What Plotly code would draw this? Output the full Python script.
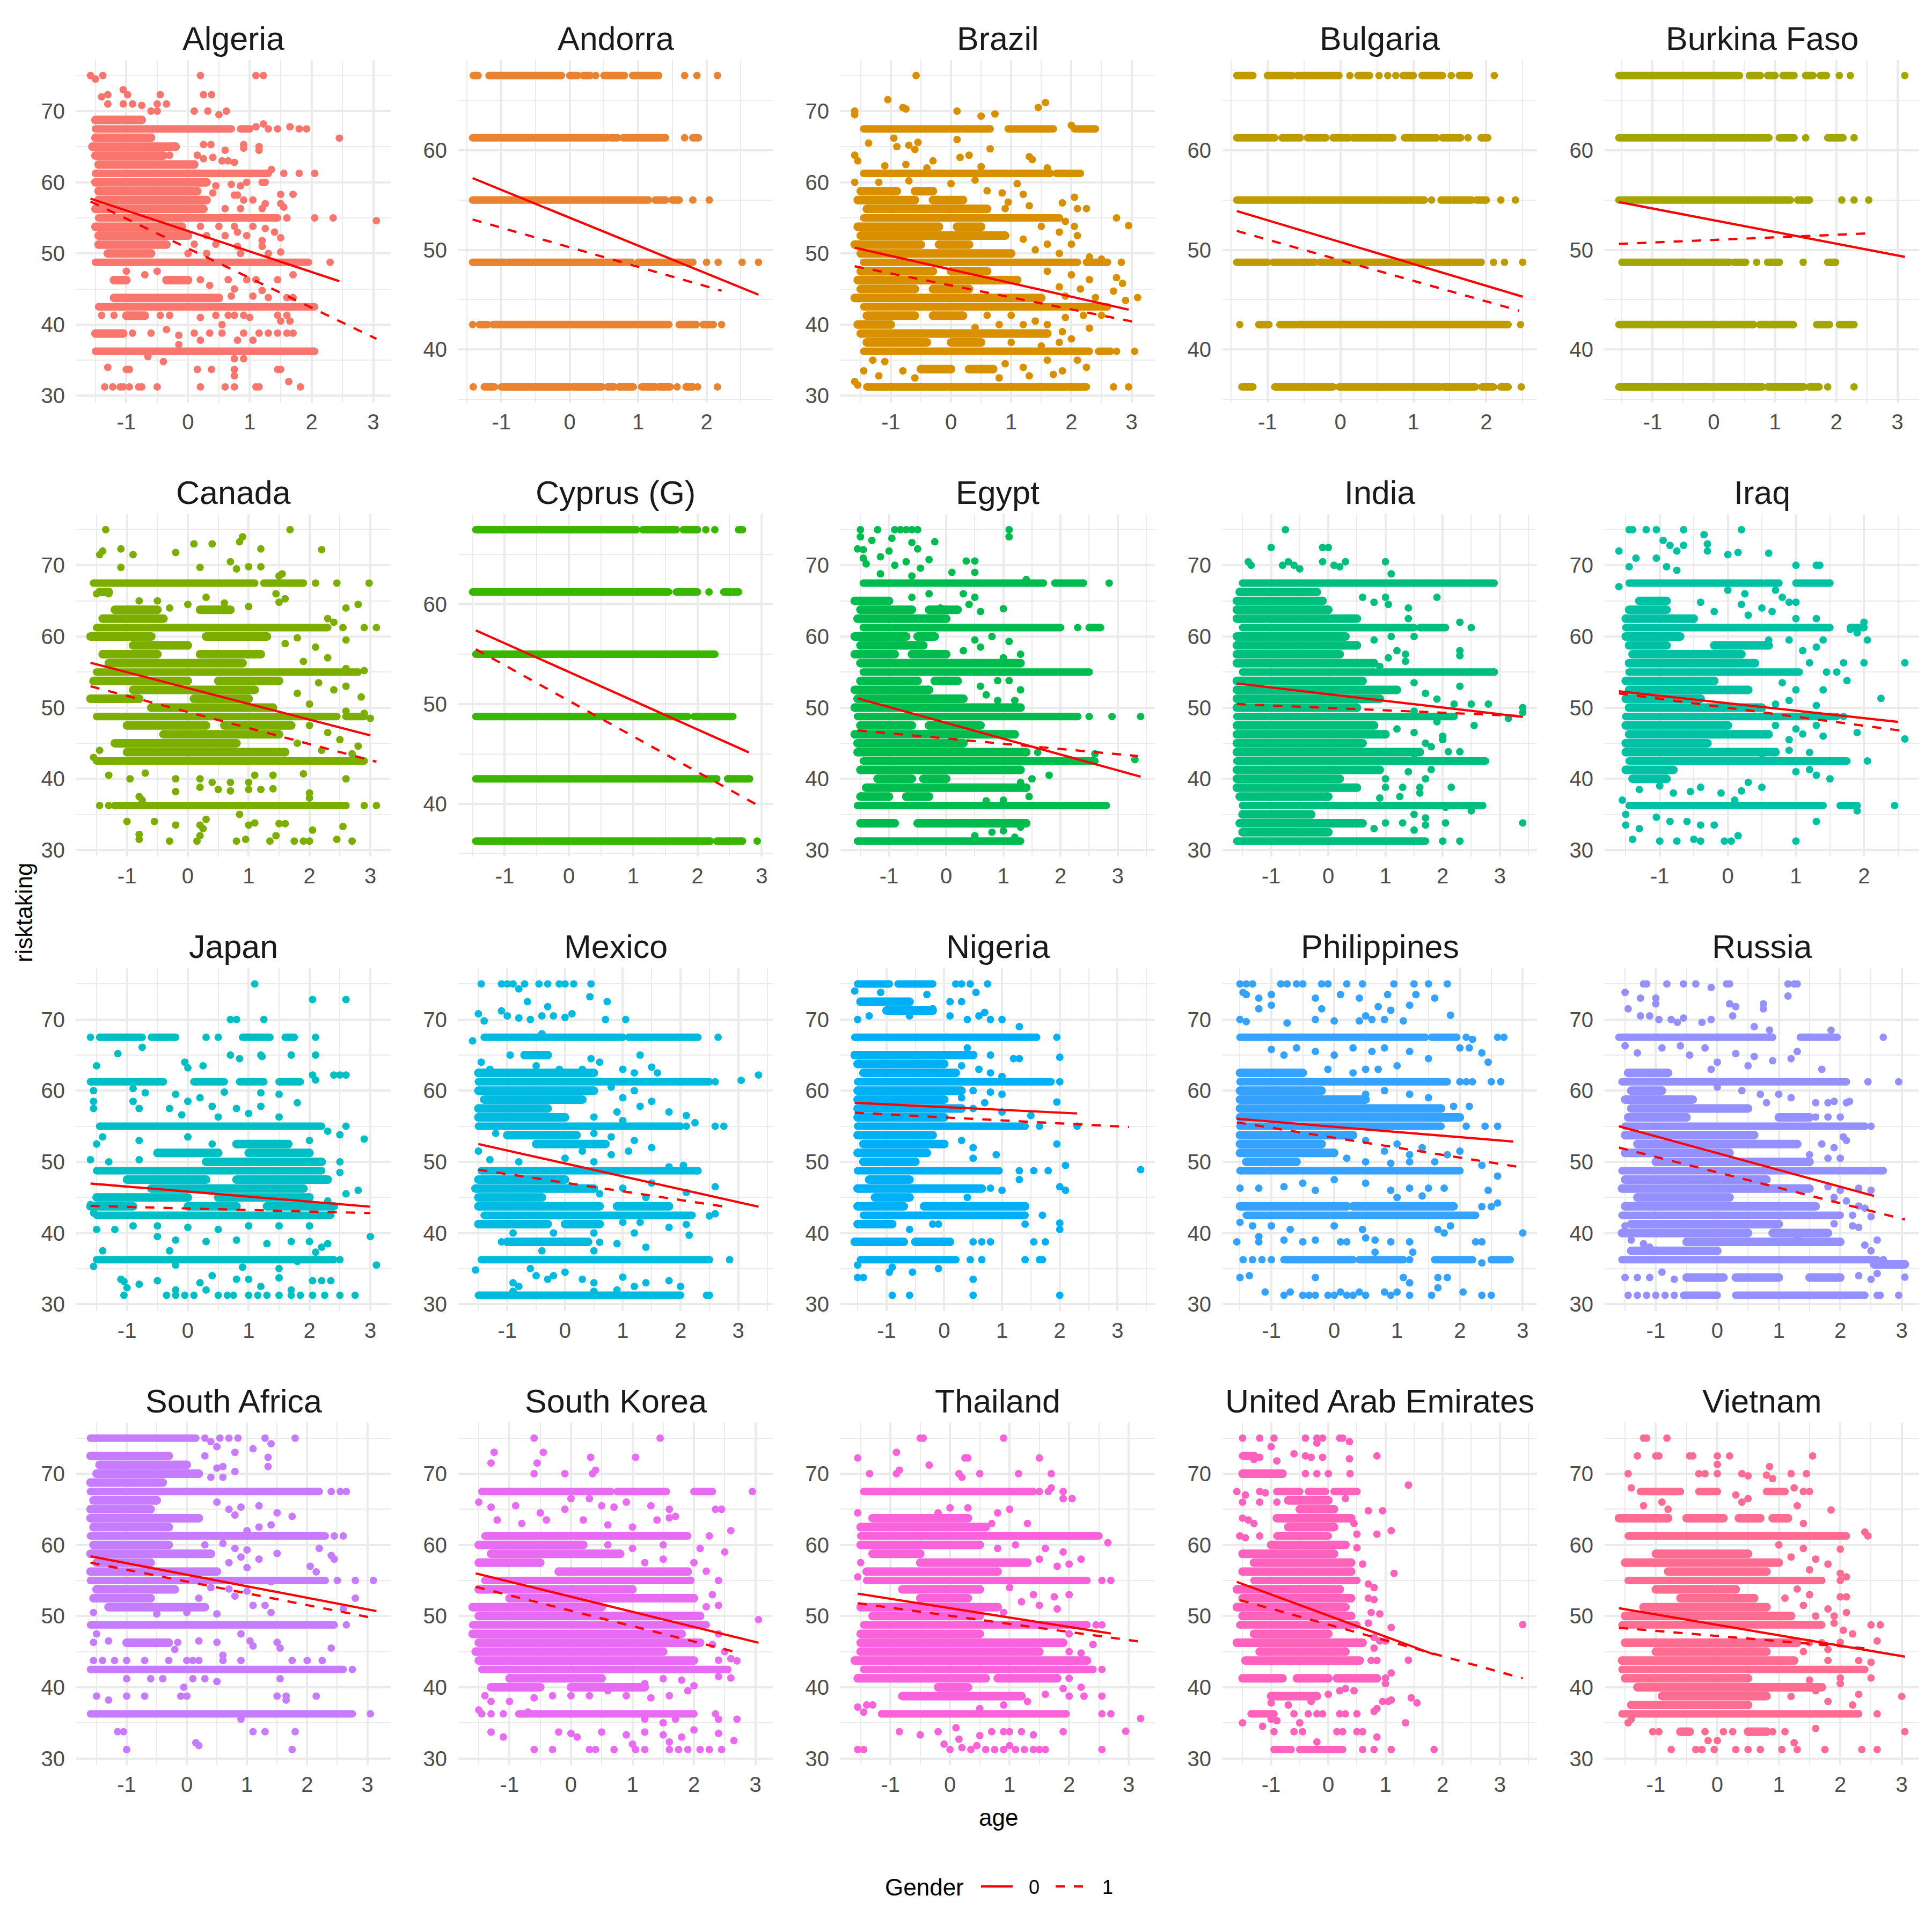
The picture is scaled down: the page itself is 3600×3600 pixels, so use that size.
import math
import plotly.graph_objects as go

COUNTRIES = ["Algeria", "Andorra", "Brazil", "Bulgaria", "Burkina Faso",
             "Canada", "Cyprus (G)", "Egypt", "India", "Iraq",
             "Japan", "Mexico", "Nigeria", "Philippines", "Russia",
             "South Africa", "South Korea", "Thailand", "United Arab Emirates", "Vietnam"]
COLORS = ["#F8766D", "#EA8331", "#D89000", "#C09B00", "#A3A500",
          "#7CAE00", "#39B600", "#00BB4E", "#00BF7D", "#00C1A3",
          "#00BFC4", "#00BAE0", "#00B0F6", "#35A2FF", "#9590FF",
          "#C77CFF", "#E76BF3", "#FA62DB", "#FF62BC", "#FF6C91"]
BAND_LEVELS = [31.25, 36.25, 42.5, 48.75, 55.0, 61.25, 67.5, 75.0]
LEGEND_TITLE = "Gender"
LEGEND_LABELS = ["0", "1"]

# rows: dense runs of points at one risktaking level (y, age_from, age_to)
# pts: single points (age, risktaking); fit0 / fit1: regression line ends for Gender 0 / 1

ALG_ROWS = [(68.75,-1.5,-0.75),(67.5,-1.5,0.7),(67.5,0.85,1.0),(66.25,-1.5,-0.6),(65.0,-1.55,-0.2),(63.75,-1.5,-0.4),
            (62.5,-1.45,0.1),(61.25,-1.5,1.3),(60.0,-1.5,0.3),(58.75,-1.45,0.15),(57.5,-1.45,0.3),(56.25,-1.5,0.25),
            (55.0,-1.45,1.45),(53.75,-1.5,-0.1),(52.5,-1.45,0.0),(51.25,-1.45,-0.35),(50.0,-1.3,-0.6),(48.75,-1.5,1.95),
            (46.25,-1.2,-1.0),(46.25,-0.35,0.0),(43.75,-1.2,0.5),(42.5,-1.45,2.05),(41.25,-1.0,-0.7),(38.75,-1.5,-1.05),
            (36.25,-1.5,2.05)]
ALG_PTS = [(-1.58,75),(-1.5,74.5),(-1.38,75),(0.2,75),(1.1,75),(1.22,75),(-1.05,73),(-0.98,72.3),(-0.45,72.3),(0.25,72.3),
           (0.38,72.3),(-1.4,72),(-1.3,72.3),(-1.3,71),(-1.05,71),(-0.9,71),(-0.75,70.8),(-0.5,71),(-0.35,71),(-0.5,70),
           (-0.6,70),(0.1,70),(0.32,70),(0.5,69.5),(0.62,70),(1.22,68.2),(1.1,67.8),(1.3,67.5),(1.45,67.5),(1.65,67.8),
           (1.8,67.5),(1.92,67.5),(2.45,66.2),(0.25,65.3),(0.37,65.3),(0.9,65.3),(0.9,64.8),(1.15,65),(1.15,64.5),
           (-0.3,63.8),(0.15,63.8),(0.25,63.3),(0.4,63.5),(0.55,63),(0.65,63),(0.75,62.8),(0.6,64.5),(1.55,61.25),
           (1.8,61.25),(2.05,61.25),(1.35,61.8),(1.2,60),(0.95,60),(0.45,59.5),(0.7,59.7),(0.85,59.5),(1.25,60),
           (0.4,58.5),(0.75,58.2),(0.8,58.2),(1.5,58.3),(1.7,58.3),(0.9,57.5),(1.05,57.5),(1.25,57),(1.5,57),(1.55,56.5),
           (0.6,56.3),(0.85,56.3),(1.2,56.3),(1.6,55),(2.05,55),(2.35,55),(3.05,54.6),(0.2,53.8),(0.5,53.8),(0.75,53.8),
           (0.8,53),(1.05,53.8),(1.25,53.5),(1.4,53),(1.5,52.2),(0.3,52.5),(0.6,52.5),(0.95,52.5),(1.2,51.8),(0.1,51.3),
           (0.45,51.3),(0.8,51),(1.2,51),(0.0,50),(0.3,50),(0.85,50),(1.3,50),(1.5,50.2),(2.3,48.75),(-1.0,47.5),(-0.7,47),
           (-0.5,47.5),(0.2,46.3),(0.35,45.5),(0.65,46.3),(0.75,45),(0.95,46.3),(1.1,46.3),(1.45,46.3),(1.2,44.8),(1.7,47),
           (0.7,44),(1.05,44),(1.6,43.8),(1.7,43.8),(1.3,43.8),(-1.4,41.3),(-1.2,41.3),(-0.45,41.3),(-0.3,41.3),(0.2,41),
           (0.45,41.3),(0.75,41.3),(0.9,41.3),(1.0,41),(1.45,41.3),(1.5,40.5),(1.6,41.3),(1.65,40.5),(0.55,40),(0.65,41.3),
           (-0.9,38.8),(-0.6,38.8),(-0.35,39.3),(-0.15,38.5),(0.1,38.8),(0.35,38.8),(0.55,38.8),(0.2,37.8),(0.8,37.8),
           (0.9,38.8),(1.05,37.8),(1.15,38.8),(1.3,38.8),(1.45,38.8),(1.6,38.8),(1.7,38.8),(-0.15,37.2),(-0.65,35.5),
           (-0.4,34.8),(0.75,35.2),(0.9,35.2),(-1.3,34),(-1.0,33.7),(-0.95,33.7),(0.15,33.7),(0.38,33.7),(0.75,33.7),
           (0.75,32.8),(1.45,33.7),(1.5,33.7),(-1.35,31.25),(-1.22,31.25),(-1.1,31.25),(-1.05,31.25),(-0.95,31.25),
           (-0.8,31.25),(-0.75,31.25),(-0.5,31.25),(0.2,31.25),(0.6,31.25),(0.75,31.25),(1.1,31.25),(1.15,31.25),
           (1.63,32),(1.82,31.25)]
ALG_FIT0 = [(-1.58,57.7),(2.45,46.1)]
ALG_FIT1 = [(-1.58,57.3),(3.05,38.0)]

AND_ROWS = [(67.5,-1.41,-1.34),(67.5,-1.18,-0.12),(67.5,0.0,0.12),(67.5,0.2,0.3),(67.5,0.5,0.8),(67.5,0.92,1.3),
            (61.25,-1.42,0.55),(61.25,0.6,0.7),(61.25,0.78,1.4),(61.25,1.8,1.88),(55.0,-1.42,1.15),(55.0,1.25,1.4),
            (55.0,1.5,1.6),(48.75,-1.42,-0.95),(48.75,-0.9,0.9),(48.75,1.0,1.65),(48.75,1.7,1.8),(42.5,-1.32,-1.2),
            (42.5,-1.12,1.45),(42.5,1.6,1.85),(42.5,1.95,2.1),(36.25,-1.25,-1.1),(36.25,-1.0,0.0),(36.25,0.04,0.47),
            (36.25,0.55,0.65),(36.25,0.72,0.93),(36.25,1.05,1.25),(36.25,1.3,1.47),(36.25,1.7,1.8)]
AND_PTS = [(0.38,67.5),(1.68,67.5),(1.86,67.5),(2.16,67.5),(1.68,61.25),(1.8,55),(2.04,55),(2.0,48.75),(2.17,48.75),
           (2.52,48.75),(2.76,48.75),(-1.42,42.5),(2.22,42.5),(-1.41,36.25),(1.57,36.25),(1.87,36.25),(2.16,36.25)]
AND_FIT0 = [(-1.42,57.2),(2.76,45.5)]
AND_FIT1 = [(-1.42,53.05),(2.22,45.9)]

BRA_ROWS = [(67.5,-1.45,0.15),(67.5,0.2,0.65),(67.5,0.95,1.7),(67.5,2.05,2.4),(61.25,-1.45,1.65),(61.25,1.75,2.15),
            (55.0,-1.45,1.8),(48.75,-1.45,2.1),(48.75,2.25,2.6),(42.5,-1.45,2.6),(36.25,-1.45,2.3),(36.25,2.45,2.65),
            (31.25,-1.4,2.25),(58.75,-1.5,-0.9),(58.75,-0.6,-0.3),(57.5,-1.55,-0.6),(57.5,-0.3,0.2),(56.25,-1.4,0.6),
            (53.75,-1.55,-0.2),(53.75,0.1,0.5),(52.5,-1.5,0.9),(51.25,-1.6,-0.5),(51.25,-0.2,0.3),(50.0,-1.5,1.0),
            (47.5,-1.5,-0.3),(47.5,0.0,0.6),(46.25,-1.55,1.1),(45.0,-1.5,-0.6),(45.0,-0.3,0.3),(43.75,-1.6,1.5),
            (41.25,-1.4,-0.6),(41.25,-0.3,0.2),(40.0,-1.55,-1.0),(38.75,-1.5,1.6),(37.5,-1.4,-0.4),(37.5,0.0,0.5),
            (33.75,-0.5,0.0),(33.75,0.3,0.7)]
BRA_PTS = [(-0.58,75),(-1.05,71.6),(-0.8,70.5),(-0.75,70.3),(0.1,70.0),(0.5,69.3),(0.73,69.6),(1.45,70.5),(1.57,71.2),
           (-1.6,69.5),(-1.6,70),(2.0,68),(-0.95,66.2),(0.1,66),(-1.37,65.5),(-0.9,65),(-0.7,65.2),(-0.55,65.6),(-0.6,64.6),
           (-1.6,63.8),(-1.55,63),(0.15,63.5),(0.3,63.8),(0.65,64.7),(1.3,63.6),(1.35,63.2),(1.6,62),(-0.3,63),(-0.75,62.5),
           (-1.1,62.3),(-0.4,62),(0.5,62.2),(-1.6,60),(-1.2,60),(-0.7,60.2),(0.0,59.8),(0.4,60.3),(1.1,59.8),(0.85,58.5),
           (0.6,58.8),(1.2,58.3),(2.05,57.9),(1.85,57.1),(0.95,57.2),(1.3,56.7),(0.9,56.3),(2.1,56.3),(2.25,56.3),(2.75,55.0),
           (2.95,53.9),(1.9,54.5),(2.05,53.8),(1.5,53.8),(1.8,53),(2.1,52.5),(1.2,52),(1.6,51.3),(2.0,51.3),(1.4,50.5),
           (1.8,50),(2.83,48.75),(2.3,49.5),(2.5,49.2),(2.75,46.6),(2.85,45.8),(1.6,47.5),(2.0,47),(2.3,46.3),(1.8,45.3),
           (2.15,45),(2.7,44.7),(1.9,44),(2.4,43.8),(3.1,43.8),(2.9,43.4),(2.2,41.3),(2.5,41.3),(1.9,41),(0.6,41.3),(1.0,41.3),
           (1.4,40.5),(0.8,40),(1.2,40),(1.6,40),(2.3,39.5),(0.4,39.6),(1.85,39),(2.75,36.25),(3.05,36.25),(1.8,37.5),
           (2.0,38),(1.0,37.5),(1.5,37),(-1.3,35),(-1.1,34.8),(-1.45,33.5),(-0.8,33.5),(-1.2,32.8),(0.9,34.5),(1.2,34),
           (1.6,35),(2.1,35),(2.25,34),(1.85,33.5),(0.8,32.5),(1.3,32.8),(1.7,33),(-0.6,32.5),(2.7,31.25),(2.95,31.25),
           (-1.6,32),(-1.55,31.5)]
BRA_FIT0 = [(-1.6,50.8),(2.95,42.1)]
BRA_FIT1 = [(-1.6,48.2),(3.15,40.2)]

BUL_ROWS = [(67.5,-1.42,-1.2),(67.5,-1.0,-0.66),(67.5,-0.59,-0.02),(67.5,0.24,0.4),(67.5,0.86,1.0),(67.5,1.12,1.4),
            (67.5,1.63,1.77),(61.25,-1.42,-0.9),(61.25,-0.8,-0.55),(61.25,-0.45,-0.2),(61.25,-0.1,0.12),(61.25,0.17,0.72),
            (61.25,0.88,1.32),(61.25,1.4,1.65),(61.25,1.93,2.02),(55.0,-1.42,0.8),(55.0,0.83,1.15),(55.0,1.38,1.8),
            (55.0,1.87,2.0),(48.75,-1.42,-1.0),(48.75,-0.92,-0.35),(48.75,-0.28,1.93),(42.5,-1.12,-0.98),
            (42.5,-0.83,-0.62),(42.5,-0.58,2.3),(36.25,-1.35,-1.2),(36.25,-0.9,-0.1),(36.25,-0.02,1.38),
            (36.25,1.42,1.85),(36.25,1.94,2.1),(36.25,2.2,2.3)]
BUL_PTS = [(0.13,67.5),(0.53,67.5),(0.65,67.5),(0.76,67.5),(1.52,67.5),(2.11,67.5),(1.75,61.25),(1.25,55),(2.2,55),
           (2.4,55),(2.1,48.75),(2.25,48.75),(2.5,48.75),(-1.38,42.5),(2.47,42.5),(2.48,36.25)]
BUL_FIT0 = [(-1.42,53.9),(2.5,45.3)]
BUL_FIT1 = [(-1.42,51.9),(2.45,43.9)]

BFA_ROWS = [(67.5,-1.55,0.42),(67.5,0.58,0.76),(67.5,0.88,1.0),(67.5,1.13,1.31),(67.5,1.5,1.62),(67.5,1.74,1.84),
            (61.25,-1.55,0.9),(61.25,1.07,1.31),(61.25,1.86,2.11),(55.0,-1.55,1.25),(55.0,1.37,1.56),(48.75,-1.5,0.25),
            (48.75,0.33,0.52),(48.75,0.88,1.07),(48.75,1.86,1.99),(42.5,-1.55,0.05),(42.5,0.1,0.65),(42.5,0.75,1.3),
            (42.5,1.68,1.89),(42.5,2.05,2.29),(36.25,-1.55,0.8),(36.25,0.88,1.47),(36.25,1.56,1.72)]
BFA_PTS = [(2.05,67.5),(2.23,67.5),(3.12,67.5),(1.5,61.25),(2.29,61.25),(2.09,55),(2.29,55),(2.53,55),(0.7,48.75),
           (1.46,48.75),(1.86,36.25),(2.29,36.25)]
BFA_FIT0 = [(-1.55,54.8),(3.12,49.3)]
BFA_FIT1 = [(-1.55,50.6),(2.52,51.65)]

CAN_ROWS = [(67.5,-1.55,1.1),(67.5,1.25,1.9),(61.25,-1.5,2.3),(55.0,-1.5,2.8),(48.75,-1.5,2.45),(48.75,2.6,2.9),
            (42.5,-1.5,2.9),(36.25,-1.2,2.6),(57.5,-1.4,-0.5),(57.5,0.2,1.2),(56.25,-1.3,0.9),(53.75,-1.55,0.0),
            (53.75,0.5,1.5),(52.5,-0.9,1.1),(51.25,-1.6,-0.8),(51.25,0.1,1.0),(50.0,-0.6,1.4),(47.5,-1.0,0.3),
            (47.5,0.6,1.7),(46.25,-0.4,1.5),(45.0,-1.2,0.8),(43.75,-1.0,1.6),(58.75,-0.9,0.0),(60.0,-1.6,-0.6),
            (60.0,0.3,1.3),(62.5,-1.4,-0.4),(63.75,-1.2,-0.5),(63.75,0.2,0.7),(66.25,-1.45,-1.3)]
CAN_PTS = [(-1.35,75),(1.68,75),(0.9,74),(0.85,73.3),(-1.1,72.3),(-1.45,71.5),(-1.4,72),(-0.9,71.5),(-0.2,71.8),(0.1,73),
           (0.4,73),(1.2,72.3),(2.2,72.2),(0.2,69.7),(0.7,70.5),(0.8,69.5),(1.0,69.8),(1.2,69.8),(1.5,68.5),(1.55,68.8),
           (-1.1,69.7),(2.1,67.5),(2.45,67.5),(2.98,67.5),(-1.5,66),(-1.3,66),(-0.8,65),(-0.5,65),(-0.3,64),(0.0,64.5),
           (0.3,65.5),(0.6,64.7),(1.0,64.2),(1.5,64.8),(1.45,66),(1.6,65.3),(2.6,64),(2.8,64.5),(2.3,62.5),(2.4,62),
           (2.55,61.25),(2.9,61.25),(3.1,61.25),(2.6,59.5),(1.8,59.8),(2.1,58.5),(1.6,59),(2.3,57),(2.6,55.5),(2.9,55.2),
           (1.9,56.5),(2.15,53.5),(2.4,52.5),(2.6,53),(2.85,51.5),(1.8,52),(2.0,50.5),(2.6,49.5),(3.0,48.5),(2.9,49.2),
           (2.0,47.5),(2.3,46.5),(2.5,45.5),(2.8,44.6),(1.8,45),(2.2,44),(2.7,43.5),(-1.45,44),(-1.55,43),(-1.3,40.5),
           (-0.95,40),(-0.7,40.8),(-0.2,40),(0.2,40),(0.4,39.5),(0.7,39.5),(1.0,39.5),(1.1,40.5),(1.4,40.5),(1.9,40.7),
           (2.6,40),(1.2,38.5),(-0.2,38.2),(0.2,38.8),(0.5,38.5),(0.7,38.3),(1.0,38.5),(1.4,38.6),(2.0,38),(2.0,37.3),
           (-0.8,37.5),(-0.75,37),(-1.45,36.25),(-1.3,36.25),(2.9,36.25),(3.1,36.25),(-1.0,34),(-0.55,34),(-0.2,33.5),
           (0.2,33.5),(0.3,34.3),(0.25,33),(0.85,35),(1.0,33.5),(1.1,33.8),(1.5,33.7),(1.6,33.7),(2.05,32.8),(2.55,33.3),
           (-0.8,31.5),(-0.3,31.25),(0.15,31.25),(0.2,32),(0.8,31.25),(0.95,31.5),(1.35,31.25),(1.45,32),(1.75,31.25),
           (1.9,31.25),(2.0,31.25),(2.45,31.5),(2.7,31.25),(-0.8,32.2)]
CAN_FIT0 = [(-1.6,56.3),(3.0,46.1)]
CAN_FIT1 = [(-1.6,53.0),(3.1,42.4)]

CYP_ROWS = [(67.5,-1.45,1.05),(67.5,1.15,1.67),(67.5,1.78,2.0),(67.5,2.64,2.7),(61.25,-1.5,1.55),(61.25,1.67,2.0),
            (61.25,2.41,2.64),(55.0,-1.45,2.27),(48.75,-1.45,1.85),(48.75,1.95,2.55),(42.5,-1.45,2.3),
            (42.5,2.47,2.81),(36.25,-1.45,2.2),(36.25,2.3,2.7)]
CYP_PTS = [(2.13,67.5),(2.27,67.5),(2.18,61.25),(2.93,36.25)]
CYP_FIT0 = [(-1.45,57.4),(2.8,45.15)]
CYP_FIT1 = [(-1.45,55.5),(2.95,39.8)]

EGY_ROWS = [(67.5,-1.45,1.7),(67.5,1.9,2.4),(61.25,-1.45,2.0),(61.25,2.5,2.7),(55.0,-1.45,2.5),(48.75,-1.55,2.3),
            (42.5,-1.45,2.6),(43.75,-1.55,1.4),(36.25,-1.55,2.8),(33.75,-1.5,-0.9),(33.75,-0.5,1.4),(31.25,-1.55,1.3),
            (65.0,-1.6,-1.0),(63.75,-1.5,-0.6),(63.75,-0.3,0.2),(62.5,-1.55,0.0),(60.0,-1.6,-0.7),(60.0,-0.5,-0.2),
            (58.75,-1.5,-0.4),(57.5,-1.6,-0.9),(57.5,-0.6,0.0),(56.25,-1.5,1.3),(53.75,-1.5,-0.5),(53.75,-0.2,0.2),
            (52.5,-1.6,-0.3),(51.25,-1.55,0.3),(50.0,-1.6,1.3),(47.5,-1.5,-0.6),(47.5,-0.3,0.6),(46.25,-1.6,1.2),
            (45.0,-1.55,0.3),(41.25,-1.5,1.3),(40.0,-1.2,-0.6),(40.0,-0.4,0.0),(38.75,-1.4,1.4),(37.5,-1.5,-1.0),
            (37.5,-0.7,-0.3)]
EGY_PTS = [(-1.5,75),(-1.2,75),(-0.9,75),(-0.8,75),(-0.7,75),(-0.6,75),(-0.5,75),(1.1,75),(1.1,74),(-1.5,74),(-1.3,73.5),
           (-0.95,73.8),(-0.6,73.2),(-0.2,73.3),(-1.55,72.3),(-1.45,72.2),(-1.0,72),(-0.5,72.3),(-1.45,71),(-1.15,71.2),
           (-0.3,70.8),(-0.7,70.5),(-0.9,70),(-1.4,70.2),(-0.45,69.6),(0.35,70.6),(0.5,70.6),(0.5,69),(0.1,69),(-0.6,68.5),
           (-1.15,68.8),(1.4,68),(2.85,67.5),(0.3,66),(0.5,65.5),(1.0,63.9),(0.6,63.5),(0.4,64.5),(-0.1,64),(-0.6,65.5),
           (-0.3,66),(2.3,61.25),(1.1,59.3),(0.8,60),(0.5,59.5),(0.3,58),(0.6,58.5),(1.3,57.5),(1.0,57),(0.9,53.8),
           (1.1,53.8),(0.6,53),(1.3,52.5),(0.7,51.8),(0.9,51),(1.2,51),(2.9,48.75),(3.4,48.75),(2.5,48.75),(2.6,43.5),
           (3.3,42.7),(2.1,42.5),(1.6,43.7),(1.5,40),(1.8,40.5),(1.3,39.5),(1.45,37.5),(1.0,37),(0.7,36.9),(2.55,36.25),
           (2.7,36.25),(1.3,33.2),(1.0,32.7),(0.8,32.5),(0.5,32),(1.2,31.8)]
EGY_FIT0 = [(-1.55,51.3),(3.4,40.3)]
EGY_FIT1 = [(-1.55,46.8),(3.35,43.2)]

IND_ROWS = [(67.5,-1.5,2.9),(61.25,-1.5,1.5),(61.25,1.6,2.05),(55.0,-1.5,2.9),(48.75,-1.6,2.2),(42.5,-1.6,2.75),
            (36.25,-1.5,2.7),(31.25,-1.6,1.7),(66.25,-1.55,-0.2),(65.0,-1.6,-0.1),(63.75,-1.6,0.0),(62.5,-1.6,0.5),
            (60.0,-1.6,0.3),(58.75,-1.6,0.5),(57.5,-1.6,0.2),(56.25,-1.6,0.8),(53.75,-1.6,0.6),(52.5,-1.6,1.2),
            (51.25,-1.6,0.9),(50.0,-1.6,0.5),(47.5,-1.6,0.8),(46.25,-1.6,1.0),(45.0,-1.6,0.6),(43.75,-1.6,1.6),
            (41.25,-1.6,0.9),(40.0,-1.6,0.2),(38.75,-1.6,0.5),(37.5,-1.55,0.0),(35.0,-1.5,-0.3),(33.75,-1.55,0.6),
            (32.5,-1.5,0.0)]
IND_PTS = [(-0.75,75),(-1.0,72.5),(-0.1,72.5),(0.0,72.5),(-1.4,70.5),(-1.35,70),(-0.8,70),(-0.7,70.5),(-0.6,70),
           (-0.1,70.5),(0.1,70),(0.2,69.8),(0.3,70.5),(1.0,70.5),(1.1,68.8),(-0.5,69.5),(0.6,65.5),(1.0,65.5),(1.05,64.5),
           (1.4,64),(1.4,62.5),(1.9,65.5),(0.8,64.8),(2.3,62),(2.5,61.25),(2.3,58),(2.3,57.3),(1.5,60),(1.1,60),(0.8,59.5),
           (1.2,58),(1.35,57.5),(1.05,57),(1.35,56.5),(0.9,55.8),(2.5,55),(2.9,55),(2.3,53),(1.5,53.5),(1.7,52),(1.9,51.2),
           (2.2,50.5),(2.5,50.5),(2.8,50.5),(3.4,50),(3.4,49.3),(2.55,47.5),(1.5,49.5),(2.0,46),(2.0,45.5),(1.5,46.5),
           (1.7,45),(1.9,48),(1.2,47),(2.1,43.8),(2.3,43.8),(1.8,44.5),(1.5,43.5),(3.15,48.5),(1.0,40),(1.4,41),(1.8,41.3),
           (1.7,40),(2.15,38.8),(1.0,38.8),(1.3,38.8),(1.6,38.8),(1.6,38),(1.25,37.5),(0.9,37.3),(2.05,36),(2.5,35.5),
           (1.5,35),(1.7,34.5),(1.3,33.8),(1.0,33.8),(0.8,33),(1.5,32.8),(1.7,33.5),(2.05,33.8),(3.4,33.8),(2.0,31.25),
           (2.3,31.25)]
IND_FIT0 = [(-1.6,53.4),(3.4,48.7)]
IND_FIT1 = [(-1.6,50.5),(3.3,48.85)]

IRQ_ROWS = [(67.5,-1.45,0.5),(67.5,0.55,0.75),(67.5,1.0,1.5),(61.25,-1.5,1.5),(61.25,1.8,2.0),(55.0,-1.45,1.05),
            (48.75,-1.5,1.6),(42.5,-1.45,1.75),(36.25,-1.45,1.4),(36.25,1.65,1.9),(65.0,-1.3,-0.9),(63.75,-1.45,-0.9),
            (62.5,-1.5,-0.5),(60.0,-1.5,-0.7),(58.75,-1.45,-0.9),(58.75,-0.2,0.6),(57.5,-1.4,0.2),(56.25,-1.45,0.4),
            (53.75,-1.5,-0.2),(52.5,-1.45,0.3),(51.25,-1.5,-0.4),(50.0,-1.45,0.5),(47.5,-1.5,0.0),(46.25,-1.45,0.6),
            (45.0,-1.5,-0.3),(43.75,-1.5,0.7),(41.25,-1.5,-0.8),(40.0,-1.4,-0.9)]
IRQ_PTS = [(-1.45,75),(-1.4,75),(-1.2,75),(-1.05,75),(-0.65,75),(0.2,75),(-0.35,74.3),(-0.95,73.5),(-0.85,72.8),
           (-0.65,72.8),(-0.3,73),(-1.6,72),(-0.75,72),(-0.3,72),(0.0,71.5),(0.15,71.8),(-1.35,71),(0.6,71.7),(-1.05,71),
           (-1.45,69.8),(-0.9,69.8),(-0.75,69.3),(1.0,70),(1.3,70),(1.35,70),(-1.6,67),(0.0,66.5),(0.25,66),(0.7,66.5),
           (0.8,65.5),(0.9,64.8),(1.0,64.8),(0.5,64),(0.2,64.5),(-0.4,64.8),(-0.2,63.5),(0.3,63),(0.65,63.5),(1.0,62.5),
           (1.3,62.5),(2.0,62),(2.05,59.5),(1.8,61),(1.9,60.5),(0.6,59.5),(0.9,59.5),(1.1,58),(1.3,58.5),(1.4,59.5),
           (2.0,56.3),(2.6,56.3),(1.7,56.3),(1.2,56.3),(1.45,55),(1.6,55),(1.75,53.8),(2.25,51.3),(1.4,52.5),(1.0,52.5),
           (0.8,53.5),(0.9,51),(1.3,50.3),(0.7,50.5),(1.7,48.75),(1.9,46.5),(2.6,45.6),(1.4,46),(1.1,46.3),(0.9,45.5),
           (1.3,47.5),(1.0,47),(0.7,47.5),(1.2,43.7),(0.5,43.5),(0.9,44),(2.05,42.5),(1.0,41),(1.2,41.3),(1.3,40.5),
           (1.5,40),(0.3,39.5),(0.5,38.8),(0.2,38.3),(-0.1,38),(-0.4,38.8),(-0.55,38.2),(-0.8,38),(-1.0,39),(-1.3,38.5),
           (0.1,37),(2.45,36.25),(1.9,35.5),(-1.55,37),(-1.5,35),(1.3,34),(-1.5,33.5),(-1.3,33),(-1.05,34.6),(-0.85,34),
           (-0.6,34),(-0.4,33.5),(-0.2,33.5),(-1.4,31.5),(-1.0,31.25),(-0.75,31.25),(-0.5,31.5),(-0.4,31.25),
           (-0.05,31.25),(0.05,31.25),(0.15,32),(1.0,31.25)]
IRQ_FIT0 = [(-1.6,52.3),(2.5,48.0)]
IRQ_FIT1 = [(-1.6,52.0),(2.6,46.7)]

JPN_ROWS = [(67.5,-1.45,-0.75),(67.5,-0.6,-0.2),(67.5,0.9,1.35),(67.5,1.6,1.75),(61.25,-1.6,-0.4),(61.25,0.1,0.6),
            (61.25,0.85,1.25),(61.25,1.5,1.85),(55.0,-1.45,2.2),(52.5,0.8,1.65),(48.75,-1.5,2.2),(46.25,-0.6,1.9),
            (47.5,-1.0,0.3),(47.5,0.8,2.3),(50.0,0.3,2.2),(51.25,-0.5,0.5),(51.25,1.0,2.0),(45.0,-1.5,0.0),
            (45.0,0.5,2.0),(43.75,-1.6,-0.9),(43.75,0.0,0.8),(43.75,1.3,2.4),(42.5,-1.5,2.35),(36.25,-1.5,2.4)]
JPN_PTS = [(1.1,75),(2.05,72.8),(2.6,72.8),(0.7,70),(0.8,70),(1.25,70),(-1.6,67.5),(0.5,67.5),(0.3,67.5),(2.1,67.5),
           (-0.75,66.1),(-1.15,65.2),(0.7,65),(0.85,64.5),(1.2,65),(1.22,64.8),(1.7,65),(2.1,65),(-1.5,63.5),(-0.05,64),
           (0.25,63.5),(0.0,63.2),(2.05,62.2),(2.1,61.5),(2.4,62.2),(2.5,62.2),(2.6,62.2),(-1.55,60),(-0.9,60.3),
           (-0.7,59.7),(-0.2,59.5),(0.2,59),(0.6,59.8),(1.2,59.7),(1.5,59.5),(-1.55,58.5),(-0.9,58.5),(-0.8,57.5),
           (-0.3,57.5),(0.0,58.5),(0.4,57.8),(0.8,57.5),(1.2,57.8),(1.8,58.3),(-1.55,57.5),(-0.1,56.6),(0.5,56.3),
           (1.0,56.8),(1.5,56.3),(2.6,55),(2.3,54.3),(2.5,53.8),(2.9,53.2),(2.0,53),(-1.5,52.5),(-1.4,53.5),(-0.8,53),
           (0.0,53.5),(0.4,52.5),(-1.6,50.3),(-1.3,50),(-0.8,50.3),(2.5,50),(2.5,48.5),(2.8,46),(2.6,45.5),(2.3,44.5),
           (-1.6,44),(-1.55,42.8),(-1.5,40.5),(-1.2,40.5),(-0.9,41),(-0.5,41),(0.0,40.8),(0.5,40.5),(1.0,41),(1.5,41),
           (2.0,41),(-0.5,39.5),(-0.2,39),(0.3,38.8),(0.8,39),(1.3,38.5),(1.7,38.8),(2.0,38.8),(2.2,38),(2.3,38.5),
           (3.0,39.5),(-1.4,37.5),(-0.3,37.5),(2.1,37.3),(2.5,36.25),(3.1,35.5),(-1.55,35.3),(-0.2,35.5),(0.9,35.2),
           (1.5,35),(1.8,36),(-1.1,33.5),(-1.05,33.2),(-0.8,32.8),(-0.5,33.3),(0.2,33),(0.4,34),(0.8,33.5),(1.0,33.5),
           (1.5,33.7),(2.05,33.3),(2.2,33.3),(2.35,33.3),(-1.0,32.3),(-1.05,31.25),(-0.35,31.25),(-0.2,31.25),
           (-0.05,31.25),(0.1,31.25),(0.5,31.25),(0.65,31.25),(0.75,31.25),(1.0,31.25),(1.15,31.25),(1.3,31.25),
           (1.5,31.25),(1.7,31.25),(1.85,31.25),(2.05,31.25),(2.25,31.25),(2.5,31.25),(2.75,31.25),(-0.2,32),(0.3,32),
           (1.2,32.5),(1.7,32)]
JPN_FIT0 = [(-1.6,46.95),(3.0,43.7)]
JPN_FIT1 = [(-1.6,43.8),(3.0,42.8)]

MEX_ROWS = [(67.5,-1.4,1.0),(67.5,1.1,2.3),(61.25,-1.5,2.5),(55.0,-1.5,2.0),(48.75,-1.45,2.3),(42.5,-1.4,2.2),
            (43.75,-1.5,0.6),(43.75,0.9,1.8),(41.25,-1.5,-0.3),(41.25,0.0,0.6),(38.75,-1.0,0.4),(36.25,-1.45,2.5),
            (31.25,-1.5,2.0),(62.5,-1.5,0.5),(60.0,-1.5,0.5),(58.75,-1.4,0.3),(57.5,-1.5,-0.3),(56.25,-1.5,0.0),
            (53.75,-1.0,0.2),(52.5,-0.5,0.7),(47.5,-1.5,0.0),(46.25,-1.55,0.5),(45.0,-1.5,-0.4),(65.0,-0.7,-0.3)]
MEX_PTS = [(-1.45,75),(-1.1,75),(-1.0,75),(-0.9,75),(-0.7,75),(-0.45,75),(-0.3,75),(-0.1,75),(0.0,75),(0.15,75),(0.45,75),
           (-0.8,74.3),(0.43,73.2),(0.73,72.5),(-0.65,72.5),(-0.3,71.8),(-1.5,70.8),(-1.4,69.8),(-1.1,71.2),(-1.0,70.5),
           (-0.8,70.2),(-0.6,70),(-0.4,70.5),(-0.2,70.5),(0.0,70.3),(0.12,70.8),(0.7,70),(1.05,70),(-0.4,68),(-1.6,67),
           (2.65,67.5),(1.3,65),(0.45,64.5),(0.6,64),(-0.95,65),(-1.45,64),(-1.3,63),(-0.5,63.5),(-0.1,63),(0.3,63),
           (1.0,63),(1.2,62.5),(1.6,62.5),(1.5,63.3),(3.05,61.45),(3.35,62.2),(2.6,61.25),(0.8,60.5),(1.2,60),(1.0,59),
           (1.5,58.5),(1.3,57.8),(0.9,57),(1.8,57),(2.1,56.5),(2.25,55.5),(2.1,55),(2.6,55),(2.75,55),(0.5,56.3),(1.0,55.8),
           (-1.2,54),(0.5,54),(0.8,53.5),(1.2,53),(1.5,52),(0.3,51.5),(0.8,51),(1.1,51.5),(-1.5,51.5),(-1.3,50.3),(-0.8,50),
           (0.0,50.5),(0.5,50),(1.8,49.3),(2.05,49.5),(2.3,48.75),(2.6,46.5),(1.5,47),(1.0,46.3),(2.1,45.7),(1.4,45),
           (0.6,45.5),(2.6,42.7),(2.5,42.4),(2.1,41.2),(1.3,41.5),(1.0,41.5),(1.8,40.8),(-0.9,40),(-0.2,40),(0.5,40),
           (1.2,40),(2.15,39.7),(-1.1,38.75),(0.6,38.7),(0.9,38.5),(0.5,37.5),(-0.4,37.5),(1.4,38),(2.85,36.25),
           (-1.55,34.8),(-0.6,35),(-0.5,34),(-0.3,33.5),(-0.2,34),(0.0,34.5),(0.3,33.5),(0.5,33),(-0.9,33),(-0.8,32.5),
           (1.0,33.8),(1.2,32.5),(1.4,33),(1.8,33.3),(2.0,32.5),(2.45,31.25),(2.5,31.25),(-0.9,31.8),(0.5,31.8),(0.9,32)]
MEX_FIT0 = [(-1.5,52.5),(3.35,43.7)]
MEX_FIT1 = [(-1.5,48.9),(2.85,43.6)]

NGA_ROWS = [(75.0,-1.5,-0.95),(75.0,-0.8,-0.2),(72.5,-1.45,-0.6),(71.25,-1.0,-0.2),(67.5,-1.55,1.6),(65.0,-1.55,0.5),
            (63.75,-1.5,0.0),(62.5,-1.4,0.2),(61.25,-1.5,1.85),(60.0,-1.5,0.3),(58.75,-1.5,0.0),(57.5,-1.5,0.3),
            (56.25,-1.5,0.0),(55.0,-1.5,1.4),(53.75,-1.5,-0.2),(52.5,-1.4,0.0),(51.25,-1.5,-0.3),(50.0,-1.4,-0.5),
            (48.75,-1.5,0.95),(47.5,-1.3,-0.6),(46.25,-1.5,0.65),(45.0,-1.2,-0.6),(43.75,-1.5,-0.7),(43.75,-0.35,1.4),
            (42.5,-1.4,1.4),(41.25,-1.5,-0.9),(38.75,-1.55,-0.7),(38.75,-0.5,0.1),(36.25,-1.45,0.2)]
NGA_PTS = [(0.2,75),(0.3,75),(0.45,75),(0.75,75),(-1.55,74),(-1.1,73.8),(0.55,73.8),(0.3,72.5),(0.1,72.5),(-0.3,73.5),
           (0.6,70.5),(0.8,70),(1.0,70),(0.7,71),(-1.5,70),(-1.3,70.5),(-0.6,70.5),(-0.2,71.5),(0.1,70.5),(0.4,70),(1.3,69),
           (1.95,67.5),(0.4,66),(0.8,65),(1.2,64.5),(1.3,64.5),(2.0,64.7),(0.3,63.5),(0.6,63),(0.8,62.5),(1.0,62),
           (2.0,61.25),(0.5,60),(0.8,59.8),(1.0,59.5),(0.3,59),(0.7,58.3),(1.95,58.4),(0.5,57.5),(1.0,57),(1.5,56.5),
           (1.65,55),(2.3,55),(1.95,52.5),(0.3,53),(0.5,52),(0.9,51),(0.5,50.5),(1.3,48.75),(1.55,48.75),(1.8,48.75),
           (2.1,49.5),(3.4,48.9),(1.3,47.5),(2.0,46.5),(2.1,46),(0.8,46.3),(1.0,46),(0.4,45),(1.4,43.8),(1.7,42.5),
           (1.4,41.25),(2.0,41.4),(2.0,40.5),(-0.2,41.25),(-0.1,41.25),(-0.6,40.5),(0.5,38.75),(0.65,38.75),(0.8,38.75),
           (1.55,38.75),(1.75,38.75),(0.45,36.25),(0.65,36.25),(1.4,36.25),(1.65,36.25),(1.7,36.25),(-1.5,35.5),
           (-1.5,33.75),(-1.4,33.75),(-0.95,34.5),(-0.55,34.5),(-0.9,35.2),(0.5,33.5),(-0.9,31.25),(-0.6,31.25),
           (0.5,31.25),(2.0,31.25),(-0.1,35)]
NGA_FIT0 = [(-1.55,58.3),(2.3,56.8)]
NGA_FIT1 = [(-1.55,56.9),(3.2,54.9)]

PHL_ROWS = [(67.5,-1.5,1.45),(67.5,1.55,1.95),(61.25,-1.5,1.8),(57.5,-1.5,1.7),(56.25,-1.5,2.0),(55.0,-1.5,1.7),
            (58.75,-1.5,0.5),(60.0,-1.5,-0.2),(62.5,-1.5,-0.5),(53.75,-1.5,0.3),(52.5,-1.5,-0.2),(51.25,-1.5,0.0),
            (50.0,-1.4,-0.6),(48.75,-1.5,2.0),(43.75,-1.5,0.2),(43.75,0.3,1.9),(42.5,-1.4,2.25),(36.25,-0.8,0.3),
            (36.25,0.4,1.1),(36.25,1.6,2.2),(36.25,2.5,2.8)]
PHL_PTS = [(-1.5,75),(-1.4,75),(-1.3,75),(-0.85,75),(-0.75,75),(-0.6,75),(-0.5,75),(-0.2,75),(-0.1,75),(0.2,75),(0.45,75),
           (0.95,75),(1.27,75),(1.5,75),(1.8,75),(-1.45,73.8),(-1.4,73.5),(-1.2,73),(-1.0,73.5),(-1.2,71.5),(-1.0,72),
           (-0.3,73),(0.1,73.5),(0.4,73),(0.7,71.8),(0.85,73.5),(0.9,71.3),(1.2,72),(1.3,73.5),(1.6,73),(1.85,70.6),
           (-1.5,70),(-1.4,69.7),(-0.75,69.5),(-0.3,70),(0.0,69.8),(0.4,69.8),(0.5,70.5),(0.6,70),(0.8,70),(1.1,69.8),
           (-0.2,71.5),(2.1,67.5),(2.2,67.2),(2.6,67.5),(2.7,67.5),(2.0,66),(2.15,66),(2.35,65.3),(2.45,64),(1.5,64.5),
           (1.2,65.5),(0.8,66),(0.6,65.5),(0.3,66),(0.0,65),(-0.3,65.5),(-0.8,65),(-1.0,65.8),(-0.6,66),(1.0,63.5),
           (0.5,63),(0.7,63),(0.3,62.5),(-0.1,63),(2.0,61.25),(2.1,61.25),(2.2,61.25),(2.5,61.25),(2.65,61.25),(0.8,60),
           (1.2,59.5),(1.5,59),(0.5,59.5),(2.15,57.8),(1.9,57.8),(2.1,55),(2.4,55),(2.6,55),(0.5,53),(1.0,52.5),(1.4,52),
           (1.8,51),(2.0,51.5),(1.2,51),(0.8,51.5),(0.2,50.5),(0.5,50),(0.9,49.8),(1.2,50),(1.6,50),(2.35,49.5),(2.6,48),
           (0.0,47.5),(0.5,47),(0.9,46),(1.2,46.3),(1.5,46.3),(1.75,46.3),(2.45,46),(-1.5,46.3),(-1.2,46.3),(-0.8,46.5),
           (-0.5,47),(-0.3,46),(1.0,45),(1.4,45.2),(2.35,43.7),(2.5,43.7),(2.6,44.2),(-1.5,41.5),(-1.3,41),(-1.0,41),
           (-0.7,40.5),(0.0,41),(0.45,40.5),(1.65,40.5),(1.75,40),(1.85,41),(-1.55,38.75),(-1.2,38.75),(-1.2,39.5),
           (-0.8,39),(-0.5,38.75),(-0.3,39),(0.1,38.75),(0.2,38.75),(0.5,39.3),(0.65,39),(0.9,38.75),(1.2,38.75),
           (2.25,38.75),(2.35,38.75),(0.65,37.3),(1.25,37.3),(-1.45,36.25),(-1.3,36.25),(-1.15,36.25),(-1.0,36.25),
           (1.2,36.25),(2.35,35.8),(-1.5,33.75),(-1.35,34),(-0.3,33.75),(1.1,33.75),(1.2,33),(1.65,33.75),(1.8,33.75),
           (-1.1,31.7),(-0.8,31.25),(-0.7,31.7),(-0.5,31.25),(-0.4,31.25),(-0.3,31.25),(-0.1,31.25),(0.0,31.25),
           (0.1,31.7),(0.2,31.25),(0.3,31.25),(0.4,31.7),(0.5,31.25),(0.8,31.7),(0.9,31.25),(1.0,31.7),(1.2,31.25),
           (1.55,31.25),(1.65,32.3),(2.05,31.7),(2.35,31.25),(2.5,31.25),(3.0,40)]
PHL_FIT0 = [(-1.55,56.05),(2.85,52.85)]
PHL_FIT1 = [(-1.55,55.55),(3.0,49.2)]

RUS_ROWS = [(67.5,-1.6,0.9),(67.5,1.35,1.95),(61.25,-1.55,2.1),(55.0,-1.5,2.4),(48.75,-1.55,2.7),(42.5,-1.55,2.0),
            (36.25,-1.55,2.6),(35.6,2.55,3.05),(33.75,-0.5,0.1),(33.75,0.3,1.0),(33.75,1.5,2.0),(31.25,-0.55,0.0),
            (31.25,0.3,2.4),(58.75,-1.5,-0.4),(57.5,-1.4,0.5),(56.25,-1.45,-0.5),(56.25,1.0,1.5),(53.75,-1.5,0.6),
            (52.5,-1.3,1.3),(51.25,-1.5,0.2),(50.0,-1.0,1.5),(47.5,-1.5,0.8),(46.25,-1.55,1.5),(45.0,-1.3,0.2),
            (43.75,-1.5,1.6),(41.25,-1.4,1.0),(40.0,-1.55,0.5),(40.0,0.9,1.8),(38.75,-0.5,2.0),(37.5,-1.4,0.0),
            (60.0,-1.4,-0.9),(62.5,-1.45,-0.8)]
RUS_PTS = [(-1.2,75),(-1.15,75),(-0.82,75),(-0.55,75),(-0.35,75),(-0.1,74.5),(0.15,75),(0.2,75),(1.15,75),(1.25,75),
           (1.3,75),(1.15,73.3),(-1.5,73.8),(-1.25,73),(-1.0,73),(-1.0,72.2),(-1.45,71.5),(0.2,72.2),(0.3,71.8),(0.75,72.2),
           (0.75,71.5),(-1.25,70.5),(-1.1,70.5),(-0.95,70),(-0.75,70),(-0.65,69.6),(-0.55,70.2),(-0.25,69.6),(-0.1,70),
           (0.25,70.5),(0.6,69),(0.85,68.5),(1.85,68.5),(2.7,67.5),(-1.5,66.3),(-1.3,65.3),(-0.9,66),(-0.6,66.3),
           (-0.45,65),(-0.2,66),(0.3,65.2),(0.6,64.8),(0.9,64.2),(1.2,64.5),(1.3,65.5),(0.0,64),(-0.1,63),(0.5,63.5),
           (1.7,63),(2.45,61.25),(2.95,61.25),(0.0,60.5),(0.4,60),(0.7,59.5),(1.0,59.5),(1.2,59),(1.6,58.3),(1.8,58.3),
           (1.9,58.5),(2.1,58.3),(2.15,58.5),(0.8,58.3),(1.6,56.3),(1.8,56.3),(2.0,56.3),(2.5,55),(2.05,53.5),(1.7,52.5),
           (1.9,52),(2.1,53),(1.5,51),(1.8,50.5),(2.0,50.5),(2.5,46),(1.8,46.5),(2.0,46),(2.3,46.3),(1.9,45),(2.1,44.5),
           (2.3,43.8),(2.4,43.5),(2.2,42.5),(2.5,42.3),(1.9,41.3),(2.2,41),(2.3,40.8),(1.3,39.5),(2.0,38.8),(2.4,38.3),
           (2.5,37.5),(2.6,39),(-1.5,41),(-1.5,40),(-1.4,39),(-1.2,38.5),(-1.3,37.5),(-1.1,38),(2.7,36.25),(3.05,33.8),
           (-1.5,33.75),(-1.3,33.75),(-1.1,33.75),(-0.9,34.5),(-0.7,33.5),(2.3,34),(2.5,33.5),(2.6,34.3),(-1.45,31.25),
           (-1.3,31.25),(-1.15,31.25),(-1.0,31.25),(-0.85,31.25),(-0.7,31.25),(2.6,31.25),(2.65,31.25),(2.95,31.25)]
RUS_FIT0 = [(-1.6,55.0),(2.55,45.2)]
RUS_FIT1 = [(-1.6,52.0),(3.05,41.9)]

ZAF_ROWS = [(75.0,-1.6,0.15),(72.5,-1.6,-0.3),(71.25,-1.45,0.0),(70.0,-1.5,0.2),(68.75,-1.6,-0.4),(67.5,-1.6,2.2),
            (66.25,-1.55,-0.5),(65.0,-1.6,-0.6),(63.75,-1.6,0.2),(62.5,-1.55,-0.3),(61.25,-1.6,2.3),(60.0,-1.55,-0.3),
            (58.75,-1.6,0.4),(57.5,-1.5,-0.6),(56.25,-1.6,0.5),(55.0,-1.6,2.3),(53.75,-1.5,-0.2),(52.5,-1.55,-0.6),
            (51.25,-1.3,0.3),(48.75,-1.6,2.45),(46.25,-1.0,-0.3),(42.5,-1.6,2.6),(36.25,-1.6,2.75)]
ZAF_PTS = [(0.3,75),(0.55,75),(0.7,75),(0.85,75),(1.3,75),(1.8,75),(1.4,74.2),(0.4,74.5),(0.5,73.8),(0.8,73),(1.1,73.5),
           (1.35,72.3),(0.3,72.5),(0.6,71),(0.8,70.3),(0.5,70.8),(0.6,69.5),(1.35,71),(0.4,69.5),(2.4,67.5),(2.55,67.5),
           (2.65,67.5),(0.5,66),(0.7,65),(0.9,65.3),(1.2,65.5),(1.5,64.5),(1.75,64),(0.8,64.2),(1.0,62),(1.2,62.5),
           (1.4,62.8),(2.45,61.25),(2.6,61.25),(0.3,60),(0.6,60.2),(0.8,59.5),(1.0,59.3),(1.5,58.8),(2.2,59.5),(2.4,58.5),
           (2.45,58),(0.7,57.5),(0.9,58.3),(1.2,58),(1.0,56.8),(2.05,57),(2.15,56.2),(2.5,55),(2.8,55),(3.1,55),(1.4,54.8),
           (0.4,54),(0.7,53.8),(1.0,53.5),(0.8,52.8),(0.2,52.5),(1.1,51.5),(1.3,51.5),(1.4,50.5),(2.8,52.5),(2.6,51),
           (0.5,50.3),(0.0,50.5),(-0.5,50.3),(-1.55,50.5),(2.65,48.75),(-1.5,47.5),(-1.3,46.5),(-1.55,46.3),(-0.15,46.3),
           (0.2,46.5),(0.5,46.3),(0.9,47.5),(1.05,46.5),(1.1,45.8),(1.5,46.3),(1.55,45.5),(2.4,45.5),(-0.2,45.3),(0.6,44.5),
           (-1.55,43.75),(-1.4,43.75),(-1.2,43.75),(-1.0,43.75),(-0.7,43.75),(-0.3,43.75),(0.0,43.75),(0.1,43.75),
           (0.2,43.75),(0.6,43.75),(0.9,43.75),(1.75,43.75),(2.0,43.75),(2.25,43.75),(2.75,42.5),(-1.0,41.2),(-0.6,41.2),
           (-0.4,41.2),(0.1,41.2),(0.3,41.2),(0.5,40.8),(1.55,41.2),(-0.05,40),(-1.5,38.75),(-1.3,38.2),(-1.0,38.75),
           (-0.7,38.75),(-0.1,38.75),(0.0,38.75),(1.5,38.75),(1.65,38.75),(1.65,38.2),(2.15,38.75),(3.05,36.25),(0.9,35.5),
           (-1.15,33.75),(-1.05,33.75),(1.1,33.75),(1.3,33.75),(1.8,33.75),(0.15,32.2),(0.2,31.8),(-1.0,31.25),(1.75,31.25)]
ZAF_FIT0 = [(-1.6,58.4),(3.15,50.7)]
ZAF_FIT1 = [(-1.6,57.5),(3.05,49.8)]

KOR_ROWS = [(67.5,-1.45,0.65),(67.5,0.75,1.55),(67.5,2.0,2.3),(61.25,-1.4,1.9),(55.0,-1.4,1.95),(48.75,-1.6,2.2),
            (42.5,-1.45,2.55),(36.25,-0.85,2.0),(56.25,-0.2,1.9),(53.75,-1.5,1.0),(52.5,-1.0,2.0),(51.25,-1.6,0.5),
            (50.0,-1.5,2.1),(47.5,-1.6,1.8),(46.25,-1.5,2.1),(45.0,-1.55,1.5),(43.75,-1.5,2.0),(57.5,-1.5,-0.5),
            (58.75,-1.3,0.8),(60.0,-1.5,0.2),(41.25,-1.0,0.5),(40.0,-1.3,-0.5),(40.0,0.0,1.2)]
KOR_PTS = [(-0.6,75),(1.45,75),(-1.25,73),(-0.45,73),(0.32,72.3),(1.05,72.3),(-1.3,71.5),(-0.55,71.5),(-0.6,70),(-0.1,70),
           (0.35,70),(0.4,70.5),(2.95,67.5),(-1.5,66),(-1.3,65.3),(-0.9,65.5),(-0.5,64.5),(-0.1,65),(0.0,66.5),(0.3,66.5),
           (0.5,65.5),(0.7,65.3),(0.9,66),(1.3,65.5),(1.6,65),(1.7,64),(2.35,65),(2.45,65),(-1.2,63.5),(-0.8,63),
           (-0.4,63.5),(0.2,63.5),(0.6,62.8),(1.0,62.5),(1.4,63.5),(1.6,63.8),(2.25,61.25),(2.6,62),(2.5,59),(2.1,59.5),
           (1.5,60),(1.0,59.5),(0.6,60),(2.0,57.5),(1.5,58),(1.2,57.5),(2.2,56.3),(2.4,55),(2.3,53),(2.2,51.3),(2.4,51.5),
           (3.05,49.5),(2.4,47.5),(2.3,46),(2.5,45),(2.6,44),(2.4,43.8),(2.7,43.7),(2.6,41.3),(2.4,41.5),(1.8,41),
           (1.5,41.2),(1.2,40.5),(2.0,40.2),(1.9,39.5),(1.6,38.8),(1.3,38.5),(0.9,38.8),(0.6,39.5),(0.3,38.8),(0.0,38.8),
           (-0.3,38.8),(-0.6,38.5),(-1.0,38),(-1.4,38.8),(-1.3,38),(-1.45,36.25),(-1.3,36.25),(-1.1,36.25),(2.35,36.25),
           (2.4,35.5),(2.7,35.5),(-1.5,36.8),(-0.7,36.5),(1.2,35.5),(1.5,35),(1.7,35.5),(-1.3,33.7),(-1.1,33),(-0.2,33.7),
           (0.0,33.5),(0.1,33),(0.5,33.7),(0.9,33.3),(1.2,33.7),(1.5,33.3),(1.8,33),(2.0,34),(2.4,33.5),(2.65,32.5),
           (-0.6,31.25),(-0.3,31.25),(0.3,31.25),(0.4,31.25),(0.7,31.25),(1.05,31.25),(1.2,31.25),(1.6,31.25),(1.75,31.25),
           (1.9,31.25),(2.1,31.25),(2.25,31.25),(2.45,31.25),(1.0,32),(1.6,32.3)]
KOR_FIT0 = [(-1.55,56.0),(3.05,46.25)]
KOR_FIT1 = [(-1.55,54.1),(2.7,44.9)]

THA_ROWS = [(67.5,-1.45,1.4),(61.25,-1.5,2.5),(55.0,-1.4,2.3),(48.75,-1.45,2.3),(46.25,-1.5,1.9),(43.75,-1.6,2.3),
            (42.5,-1.45,2.4),(36.25,-1.15,1.95),(63.75,-1.3,0.3),(62.5,-1.5,0.6),(60.0,-1.5,0.5),(58.75,-1.3,-0.5),
            (57.5,-0.5,1.3),(56.25,-1.4,0.8),(53.75,-0.8,0.5),(52.5,-0.5,0.3),(51.25,-1.5,0.8),(50.0,-1.3,0.5),
            (47.5,-1.5,0.5),(45.0,-1.5,1.5),(41.25,-1.55,0.6),(41.25,0.8,1.8),(38.75,-0.8,1.2),(40.0,-0.2,0.3)]
THA_PTS = [(-0.5,75),(-0.45,75),(0.9,75),(-1.55,72.2),(-0.9,73),(0.25,72.2),(0.3,72.2),(1.5,72.2),(-1.35,70),(-0.9,70),
           (-0.85,70.5),(-0.35,71.2),(0.15,70),(0.2,69.5),(0.5,70),(1.15,70),(1.7,70),(1.5,67.5),(1.65,67.5),(1.9,67.5),
           (1.7,68),(1.9,66.5),(2.05,66.5),(-1.55,64.5),(-0.2,64.5),(0.0,65.2),(0.3,65.2),(0.8,64.5),(1.0,65),(0.7,63),
           (1.3,63),(2.65,60.3),(1.6,59.5),(1.9,59),(0.8,59.5),(1.1,60),(2.2,58),(1.5,58),(1.8,57),(2.0,57.3),(-1.5,57.5),
           (-1.55,55.5),(2.55,55),(2.7,55),(1.0,54),(1.4,53),(1.75,52.7),(2.0,53),(1.2,52),(1.5,51.5),(1.8,51),(0.9,50.5),
           (2.45,48.75),(2.55,48.75),(2.0,47.5),(2.4,46),(2.55,42.5),(2.0,45),(2.2,44.8),(2.0,41.25),(2.2,40),(1.9,39.8),
           (1.6,39),(2.0,38.75),(2.25,38.75),(2.55,38.75),(1.3,38),(0.9,37.5),(0.5,37),(-1.4,37.5),(-1.3,37.5),
           (-1.55,37.2),(-1.45,36.5),(2.55,36.25),(2.7,36.25),(3.2,35.6),(-0.85,33.75),(-0.5,33.3),(-0.2,33.75),
           (0.1,34.3),(0.15,32.7),(0.5,33.2),(0.7,33.75),(0.9,33.75),(1.0,33.75),(1.2,33.75),(1.4,33.3),(1.9,33.75),
           (2.95,33.8),(-1.55,31.25),(-1.45,31.25),(0.0,31.25),(0.35,31.25),(0.45,31.8),(0.6,31.25),(0.75,31.25),
           (0.9,31.25),(1.0,31.8),(1.1,31.25),(1.25,31.25),(1.4,31.25),(1.5,31.25),(1.6,31.25),(2.55,31.25),(-0.1,32),
           (0.2,31.5)]
THA_FIT0 = [(-1.55,53.15),(2.7,47.55)]
THA_FIT1 = [(-1.55,51.8),(3.2,46.4)]

UAE_ROWS = [(72.5,-1.45,-1.3),(70.0,-1.5,-0.8),(67.5,-0.9,-0.5),(67.5,-0.35,-0.05),(67.5,0.1,0.45),(66.25,-0.7,0.0),
            (65.0,-0.5,0.1),(63.75,-0.9,0.4),(62.5,-0.7,0.1),(61.25,-0.9,0.0),(60.0,-1.0,0.3),(58.75,-1.5,0.1),
            (57.5,-1.3,0.4),(56.25,-1.5,0.4),(55.0,-1.3,0.5),(53.75,-1.6,0.2),(52.5,-1.5,0.4),(51.25,-1.6,0.3),
            (50.0,-1.5,0.4),(48.75,-1.55,0.5),(47.5,-1.3,0.0),(46.25,-1.6,0.6),(45.0,-1.2,0.3),(43.75,-1.45,0.55),
            (41.25,-1.5,-0.8),(41.25,-0.55,0.0),(41.25,0.15,0.85),(38.75,-1.0,-0.2),(36.25,-1.35,-0.95),
            (31.25,-0.95,-0.65),(31.25,-0.5,0.25)]
UAE_PTS = [(-1.5,75),(-1.2,75),(-0.95,75),(-0.4,75),(-0.2,75),(-0.1,75),(0.2,75),(0.25,75),(0.37,74.5),(-0.2,74.3),
           (-1.0,73.8),(-1.5,72.5),(-1.3,72),(-0.6,72.8),(-0.4,72.5),(-0.3,72.3),(-0.1,72.3),(-1.2,72.3),(-0.9,71.8),
           (0.37,72.1),(0.85,72.5),(-0.4,70),(-0.2,70),(0.0,70),(0.38,70),(-1.6,67.5),(-1.45,67),(-1.2,67.5),(-1.1,67.3),
           (0.3,66.5),(0.5,67.5),(1.4,68.4),(-1.5,66),(-1.2,66),(-0.9,66),(0.7,64.8),(0.95,64.8),(-1.5,63.75),(-1.4,63.5),
           (-1.3,63),(0.45,63),(-1.55,61.25),(-1.45,61),(-1.2,61.25),(0.5,61.5),(0.85,61.5),(1.1,62),(0.5,59.6),(0.6,57.3),
           (1.15,56),(0.7,54.5),(0.8,54),(0.7,52.5),(0.8,52.3),(0.75,50.5),(0.9,50.3),(1.1,48.4),(0.7,49),(0.8,47),
           (0.9,46.5),(1.0,46.5),(0.8,45.5),(0.75,43.75),(0.85,43.75),(1.4,43.8),(1.0,41.3),(1.1,42),(1.0,40.5),(0.2,39.5),
           (0.3,39.8),(0.45,39.5),(0.95,38),(1.05,38),(1.1,38.2),(1.45,38.5),(1.55,37.8),(-0.7,37.5),(-0.3,38),(0.0,39),
           (-1.0,37.8),(-0.6,36.25),(-0.35,36.25),(-0.2,36.25),(-0.1,36.25),(0.2,36.25),(0.3,36.25),(0.5,36.25),(0.8,36.6),
           (0.85,37),(-1.5,35),(-0.9,35.3),(-0.5,35),(1.35,35),(-1.15,34.5),(-0.95,33.75),(-0.6,33.75),(-0.45,33.75),
           (0.15,33.75),(0.25,33.75),(0.5,33.75),(0.6,33.75),(0.85,33),(-1.0,35.5),(0.6,31.25),(0.8,31.25),(1.1,31.25),
           (1.85,31.25),(3.4,48.8),(-0.2,32.3)]
UAE_FIT0 = [(-1.6,54.8),(1.85,44.6)]
UAE_FIT1 = [(-1.55,52.25),(3.4,41.25)]

VNM_ROWS = [(67.5,-1.25,-0.6),(67.5,-0.3,0.0),(67.5,0.8,1.1),(63.75,-1.6,-0.8),(63.75,-0.5,0.1),(63.75,0.35,0.7),
            (63.75,0.9,1.15),(61.25,-1.45,2.1),(58.75,-1.0,0.5),(57.5,-1.5,1.0),(56.25,-0.8,0.8),(55.0,-1.45,1.7),
            (53.75,-1.0,0.3),(52.5,-0.6,0.6),(51.25,-1.2,0.8),(50.0,-1.5,1.2),(48.75,-1.55,1.7),(46.25,-1.5,1.3),
            (45.0,-1.0,0.8),(43.75,-1.55,1.25),(42.5,-1.55,2.4),(41.25,-1.5,0.5),(40.0,-1.3,1.7),(38.75,-0.9,0.8),
            (37.5,-1.4,0.5),(36.25,-1.55,2.3),(33.75,-0.6,-0.45),(33.75,0.5,0.8)]
VNM_PTS = [(-1.2,75),(-1.15,75),(-0.82,75),(-1.3,72.5),(-1.0,72.5),(-0.95,72.5),(-0.45,72.5),(-0.4,72.5),(0.0,72.5),
           (0.2,72.5),(1.55,72.5),(0.85,71),(0.0,71.3),(-1.45,70),(-0.3,70),(-0.2,70),(0.0,70),(0.4,70),(0.5,69.7),
           (0.8,69.8),(0.9,69.3),(1.2,70),(1.45,70),(-1.4,68),(1.25,68),(1.4,67.5),(1.5,67.5),(0.3,67),(0.5,66.5),
           (-1.2,65.5),(-0.9,66),(0.4,66),(-0.8,65),(1.3,65.5),(1.85,64.9),(1.4,63),(2.4,61.8),(2.45,61.25),(1.0,60),
           (1.4,59.5),(2.0,59.4),(1.2,58.3),(1.6,58),(1.8,57.3),(1.5,56.5),(2.0,56),(2.1,55.5),(2.0,55),(1.3,53.8),
           (1.1,52.5),(1.5,53),(2.0,52.7),(2.1,52.7),(1.8,51),(1.4,51.5),(1.6,50),(1.9,50),(2.1,50.5),(1.9,49),(2.05,48),
           (2.5,48.75),(2.65,48.75),(2.2,47.5),(2.6,46.5),(1.5,46.25),(1.7,46.25),(2.0,46.3),(1.4,45),(1.8,45.3),(2.5,43.5),
           (1.8,43.75),(2.3,43.75),(2.0,41.3),(2.5,41.3),(2.0,40.5),(1.5,41),(1.6,39.5),(2.3,39),(1.2,38.7),(1.8,38),
           (2.2,37.5),(3.0,38.7),(2.6,36.25),(-1.45,35),(-1.4,35.5),(-1.05,33.75),(-0.95,33.75),(-0.2,33.75),(0.1,33.75),
           (0.25,33.75),(0.9,33.75),(1.1,33.75),(1.6,34.2),(3.05,33.75),(-0.15,32.5),(0.0,32.5),(1.25,32.2),(-0.75,31.25),
           (-0.35,31.25),(-0.25,31.25),(-0.05,31.25),(0.3,31.25),(0.5,31.25),(0.7,31.25),(1.05,31.25),(1.3,31.25),
           (1.75,31.25),(2.35,31.25),(2.6,31.25)]
VNM_FIT0 = [(-1.6,51.1),(3.05,44.3)]
VNM_FIT1 = [(-1.6,48.35),(2.5,45.4)]

PANELS = [
    (ALG_ROWS, ALG_PTS, ALG_FIT0, ALG_FIT1), (AND_ROWS, AND_PTS, AND_FIT0, AND_FIT1),
    (BRA_ROWS, BRA_PTS, BRA_FIT0, BRA_FIT1), (BUL_ROWS, BUL_PTS, BUL_FIT0, BUL_FIT1),
    (BFA_ROWS, BFA_PTS, BFA_FIT0, BFA_FIT1), (CAN_ROWS, CAN_PTS, CAN_FIT0, CAN_FIT1),
    (CYP_ROWS, CYP_PTS, CYP_FIT0, CYP_FIT1), (EGY_ROWS, EGY_PTS, EGY_FIT0, EGY_FIT1),
    (IND_ROWS, IND_PTS, IND_FIT0, IND_FIT1), (IRQ_ROWS, IRQ_PTS, IRQ_FIT0, IRQ_FIT1),
    (JPN_ROWS, JPN_PTS, JPN_FIT0, JPN_FIT1), (MEX_ROWS, MEX_PTS, MEX_FIT0, MEX_FIT1),
    (NGA_ROWS, NGA_PTS, NGA_FIT0, NGA_FIT1), (PHL_ROWS, PHL_PTS, PHL_FIT0, PHL_FIT1),
    (RUS_ROWS, RUS_PTS, RUS_FIT0, RUS_FIT1), (ZAF_ROWS, ZAF_PTS, ZAF_FIT0, ZAF_FIT1),
    (KOR_ROWS, KOR_PTS, KOR_FIT0, KOR_FIT1), (THA_ROWS, THA_PTS, THA_FIT0, THA_FIT1),
    (UAE_ROWS, UAE_PTS, UAE_FIT0, UAE_FIT1), (VNM_ROWS, VNM_PTS, VNM_FIT0, VNM_FIT1),
]

# ---------------- layout geometry (pixels in a 3600 x 3600 page) ----------------
W = H = 3600
PX0, PW, DXC = 142, 586, 712
PY0, PH, DYR = 112, 640, 848.7
FONT = "Liberation Sans, Arial, Helvetica, sans-serif"
GRID = "#EBEBEB"
DOT = 14
CLOUD = 16
RED = "#FF0000"
DASH = "17px,17px"


def segs(rows):
    xs, ys = [], []
    for (yv, a, b) in rows:
        xs += [a, b, None]
        ys += [yv, yv, None]
    return xs, ys


fig = go.Figure()
layout = dict(width=W, height=H, margin=dict(l=0, r=0, t=0, b=0), paper_bgcolor="white",
              plot_bgcolor="white", hovermode=False, showlegend=False,
              font=dict(family=FONT, color="black"))
annotations = []
shapes = []

for i, name in enumerate(COUNTRIES):
    r, c = divmod(i, 5)
    k = i + 1
    xa = "x" if k == 1 else f"x{k}"
    ya = "y" if k == 1 else f"y{k}"
    col = COLORS[i]
    rows, pts, fit0, fit1 = PANELS[i]

    band_rows = [rw for rw in rows if rw[0] in BAND_LEVELS]
    cloud_rows = [rw for rw in rows if rw[0] not in BAND_LEVELS]
    for group, wdt in ((cloud_rows, CLOUD), (band_rows, DOT)):
        if not group:
            continue
        gx, gy = segs(group)
        fig.add_trace(go.Scatter(x=gx, y=gy, mode="lines+markers", xaxis=xa, yaxis=ya,
                                 line=dict(color=col, width=wdt), marker=dict(color=col, size=wdt),
                                 showlegend=False, hoverinfo="skip"))
    fig.add_trace(go.Scatter(x=[p[0] for p in pts], y=[p[1] for p in pts], mode="markers",
                             xaxis=xa, yaxis=ya, marker=dict(color=col, size=DOT, line=dict(width=0)),
                             showlegend=False, hoverinfo="skip"))
    fig.add_trace(go.Scatter(x=[p[0] for p in fit0], y=[p[1] for p in fit0], mode="lines",
                             xaxis=xa, yaxis=ya, line=dict(color=RED, width=4.2),
                             name=LEGEND_LABELS[0], showlegend=False, hoverinfo="skip"))
    fig.add_trace(go.Scatter(x=[p[0] for p in fit1], y=[p[1] for p in fit1], mode="lines",
                             xaxis=xa, yaxis=ya, line=dict(color=RED, width=4.2, dash=DASH),
                             name=LEGEND_LABELS[1], showlegend=False, hoverinfo="skip"))

    allx = [v for rw in rows for v in rw[1:]] + [p[0] for p in pts] + [p[0] for p in fit0 + fit1]
    ally = [rw[0] for rw in rows] + [p[1] for p in pts]
    x0, x1 = min(allx), max(allx)
    y0, y1 = min(ally), max(ally)
    xr = [x0 - 0.05 * (x1 - x0), x1 + 0.05 * (x1 - x0)]
    yr = [y0 - 0.05 * (y1 - y0), y1 + 0.05 * (y1 - y0)]

    xt = list(range(math.ceil(xr[0]), math.floor(xr[1]) + 1))
    xm = [v + 0.5 for v in range(math.floor(xr[0]) - 1, math.ceil(xr[1]) + 1) if xr[0] <= v + 0.5 <= xr[1]]
    yt = [v for v in range(0, 100, 10) if yr[0] <= v <= yr[1]]
    ym = [v for v in range(5, 100, 10) if yr[0] <= v <= yr[1]]

    left = PX0 + DXC * c
    top = PY0 + DYR * r
    xdom = [left / W, (left + PW) / W]
    ydom = [1 - (top + PH) / H, 1 - top / H]

    layout["xaxis" if k == 1 else f"xaxis{k}"] = dict(
        domain=xdom, range=xr, anchor=ya, tickmode="array", tickvals=xt, ticktext=[str(v) for v in xt],
        showgrid=True, gridcolor=GRID, gridwidth=3.5, zeroline=False, showline=False,
        ticks="outside", ticklen=1, tickcolor="rgba(0,0,0,0)",
        tickfont=dict(size=40, color="#4D4D4D", family=FONT),
        minor=dict(tickmode="array", tickvals=xm, showgrid=True, gridcolor=GRID, gridwidth=1.8, ticks=""),
        fixedrange=True)
    layout["yaxis" if k == 1 else f"yaxis{k}"] = dict(
        domain=ydom, range=yr, anchor=xa, tickmode="array", tickvals=yt, ticktext=[str(v) for v in yt],
        showgrid=True, gridcolor=GRID, gridwidth=3.5, zeroline=False, showline=False,
        ticks="outside", ticklen=12, tickcolor="rgba(0,0,0,0)",
        tickfont=dict(size=40, color="#4D4D4D", family=FONT),
        minor=dict(tickmode="array", tickvals=ym, showgrid=True, gridcolor=GRID, gridwidth=1.8, ticks=""),
        fixedrange=True)

    annotations.append(dict(text=name, x=(left + PW / 2) / W, y=1 - (top - 40) / H, xref="paper", yref="paper",
                            xanchor="center", yanchor="middle", showarrow=False,
                            font=dict(size=61, color="#1A1A1A", family=FONT)))

annotations.append(dict(text="age", x=1860 / W, y=1 - 3396 / H, xref="paper", yref="paper",
                        xanchor="center", yanchor="middle", showarrow=False,
                        font=dict(size=44, color="black", family=FONT)))
annotations.append(dict(text="risktaking", x=44 / W, y=1 - 1705 / H, xref="paper", yref="paper",
                        xanchor="center", yanchor="middle", showarrow=False, textangle=-90,
                        font=dict(size=44, color="black", family=FONT)))

# legend: title, keys and labels (Gender 0 solid, Gender 1 dashed)
LEG_PX = 3526
LEG_Y = 1 - LEG_PX / H
annotations.append(dict(text=LEGEND_TITLE, x=1722 / W, y=LEG_Y, xref="paper", yref="paper",
                        xanchor="center", yanchor="middle", showarrow=False,
                        font=dict(size=44, color="black", family=FONT)))
annotations.append(dict(text=LEGEND_LABELS[0], x=1927 / W, y=LEG_Y, xref="paper", yref="paper",
                        xanchor="center", yanchor="middle", showarrow=False,
                        font=dict(size=36, color="black", family=FONT)))
annotations.append(dict(text=LEGEND_LABELS[1], x=2064 / W, y=LEG_Y, xref="paper", yref="paper",
                        xanchor="center", yanchor="middle", showarrow=False,
                        font=dict(size=36, color="black", family=FONT)))
shapes.append(dict(type="line", xref="paper", yref="paper", x0=1828 / W, x1=1887 / W,
                   y0=1 - (LEG_PX - 1) / H, y1=1 - (LEG_PX - 1) / H, line=dict(color=RED, width=4.2)))
shapes.append(dict(type="line", xref="paper", yref="paper", x0=1967 / W, x1=2021 / W,
                   y0=1 - (LEG_PX - 1) / H, y1=1 - (LEG_PX - 1) / H, line=dict(color=RED, width=4.2, dash=DASH)))

layout["annotations"] = annotations
layout["shapes"] = shapes
fig.update_layout(**layout)
fig.write_html("out.html")
